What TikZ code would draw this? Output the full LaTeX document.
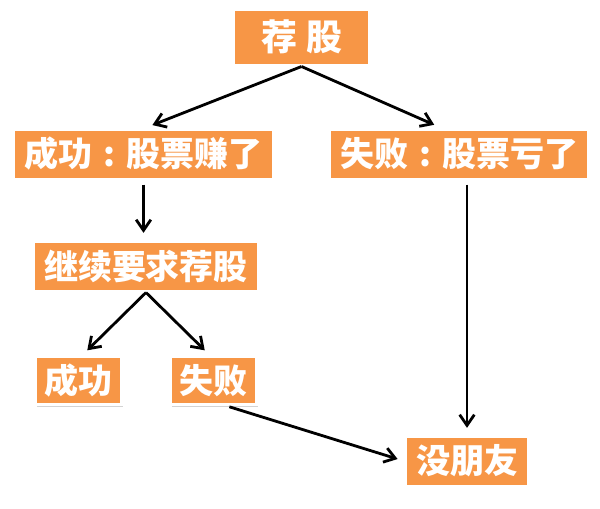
\documentclass[tikz,border=0pt]{standalone}
\usepackage{fontspec}
\newfontfamily\cjk{Noto Sans CJK SC}
\usetikzlibrary{arrows.meta,shadows,positioning}
\definecolor{stockorange}{HTML}{F79646}
\newcommand{\midcolon}{\makebox[1em][c]{:}}

\begin{document}
\begin{tikzpicture}[x=0.75pt,y=-0.75pt,->,>={Straight Barb[length=8pt,width=11pt]},
                    shorten >=5pt, line width=2.1pt]
\tikzstyle{every node}=[font=\cjk\bfseries\fontsize{25.5}{30}\selectfont]
\tikzstyle{stockbox}=[fill=stockorange, draw=white, line width=2.25pt, text=white,
                      inner sep=0pt, minimum height=37.5pt,
                      drop shadow={shadow xshift=1pt, shadow yshift=-1.5pt, opacity=0.35}]
\useasboundingbox (0,0) rectangle (600,508);

\node [stockbox, minimum width=102pt, minimum height=42pt,
       font=\cjk\bfseries\fontsize{27}{32}\selectfont] (tip) at (301.5,37) {荐\hspace{0.25em}股};
\node [stockbox, minimum width=195pt] (win) at (143.5,154) {成功\midcolon 股票赚了};
\node [stockbox, minimum width=194pt] (lose) at (459,154) {失败\midcolon 股票亏了};
\node [stockbox, minimum width=168.75pt] (again) at (146,266) {继续要求荐股};
\node [stockbox, minimum width=64.5pt, minimum height=36pt] (ok) at (78.5,380.5) {成功};
\node [stockbox, minimum width=64.5pt, minimum height=36pt] (fail) at (213.5,380.5) {失败};
\node [stockbox, minimum width=92.25pt] (alone) at (467,461) {没朋友};

\path (tip.south) edge ([xshift=2pt]win.north);
\path (tip.south) edge ([xshift=-14pt]lose.north);
\path (win.south) edge [shorten <=3pt] (win.south |- again.north);
\path (again.south) edge ([xshift=3pt]ok.north);
\path (again.south) edge ([xshift=-3pt]fail.north);
\path (alone.north |- lose.south) edge [shorten <=3pt] (alone.north);
\path ([xshift=10pt]fail.south) edge [shorten <=2pt] (alone.west);
\end{tikzpicture}
\end{document}
